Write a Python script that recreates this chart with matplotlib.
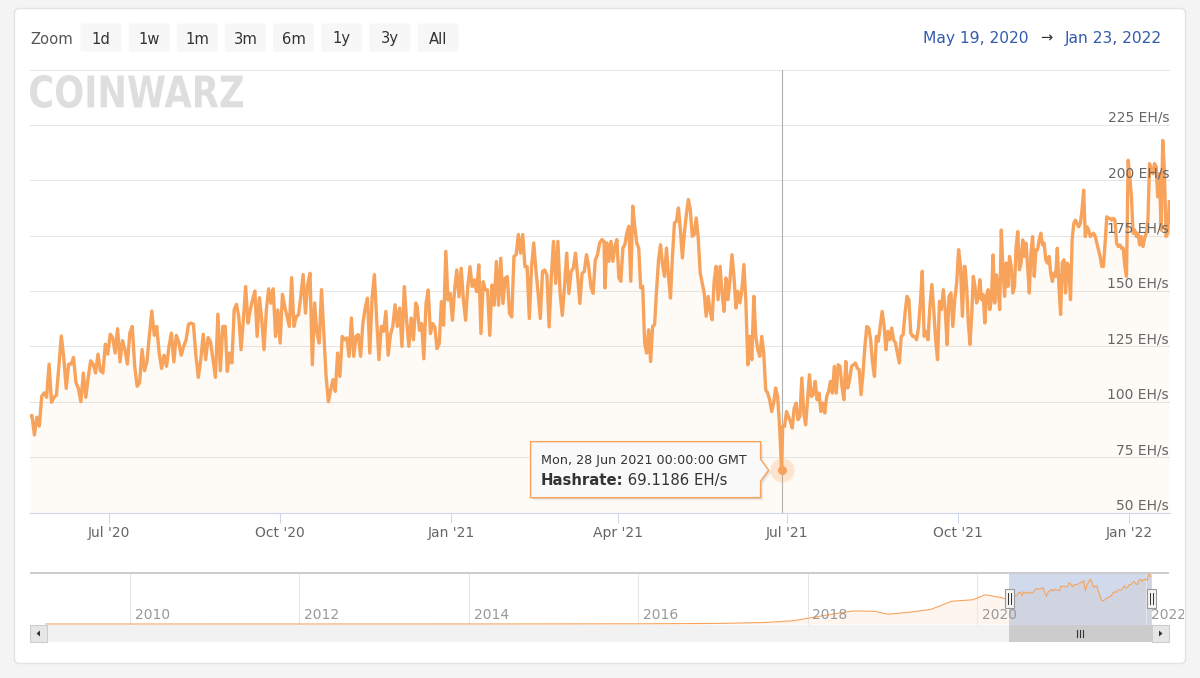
import numpy as np
import pandas as pd
import matplotlib
matplotlib.use("Agg")
import matplotlib.pyplot as plt
import matplotlib.dates as mdates
from matplotlib.patches import FancyBboxPatch, Rectangle, Polygon, PathPatch
from matplotlib.textpath import TextPath
from matplotlib.font_manager import FontProperties
from matplotlib.transforms import Affine2D, blended_transform_factory

plt.rcParams['font.family'] = ['DejaVu Sans']

# ---------------- data ----------------
range_start = pd.Timestamp("2020-05-19")
range_end = pd.Timestamp("2022-01-23")
series_name = "Hashrate"
unit = "EH/s"

# day offsets (from range_start) covered by each block of readings
segment_day_spans = [(0.0, 105.4), (106.5, 208.0), (208.8, 309.4),
                     (309.9, 405.0), (405.6, 503.4), (503.8, 613.8)]

hashrate_may_aug_2020 = [
    93.5, 93.8, 85, 93, 89, 102.5, 104, 102, 117, 99.8, 102, 103, 116, 129.7, 120, 106, 117, 117,
    120, 108.6, 106, 100, 113, 102, 111, 118.5, 117, 113, 121.5, 114, 113, 126, 121.5, 130.5, 129,
    122, 133, 118, 127.6, 123.6, 117, 131, 134, 116, 107, 108.6, 123.6, 114, 118, 130, 141, 130, 134,
    122, 115, 121, 116, 125, 131, 118, 130, 127, 121, 125, 128, 135, 135.5, 135, 121, 111, 119, 130.5,
    119, 129, 127, 119, 111, 139.5, 114, 134, 134]
hashrate_sep_dec_2020 = [
    113.7, 122, 117.5, 141.5, 144, 138.5, 123.5, 137, 152, 135.5, 141.5, 146, 150, 129.5, 147, 137,
    123.5, 141.5, 151, 144.5, 151, 129.5, 141.5, 126.5, 148.5, 143, 138.5, 134, 156, 134, 138.5, 139.3,
    147.6, 157.4, 140, 153, 158, 116.7, 144.6, 131, 126.5, 150.6, 131, 111.4, 100, 105.4, 110, 104.7,
    122, 111.4, 129.5, 128, 128.8, 120.5, 137.8, 120.5, 129.5, 130.3, 120.5, 135.5, 142.3, 146.8, 122,
    146.8, 157.4, 137, 119, 134, 131.8, 140.8, 121, 130.3, 134, 143.8, 134, 142.3, 125, 152, 137, 125,
    137.8, 128, 144.6]
hashrate_dec_2020_mar_2021 = [
    142.9, 132.3, 135.3, 119.4, 144.4, 150.5, 130.8, 135.3, 133.8, 124, 126.2, 145.2, 134.5, 167.9,
    145.9, 148.9, 136.8, 150.5, 159.5, 147.4, 160.3, 145.9, 136.8, 152, 161, 152, 155, 149.7, 161.8,
    130.8, 154.2, 150.5, 150.5, 130, 152.7, 143.6, 163.3, 143.6, 164.8, 144.4, 155.8, 156.5, 139.8,
    138.3, 165.6, 166.4, 175.5, 167.1, 175.5, 161, 161, 137.6, 161, 171.7, 159.5, 149, 137.6, 158.8,
    159.5, 157.3, 133.8, 156.5, 172.4, 153.5, 172.4, 148.9, 139, 152, 167.1, 148.9, 158.8, 160.3,
    167.1, 156.5, 144.4, 158, 158.8, 166.4, 161, 152, 148.9, 164, 166.4, 171.7, 173.2, 172.4]
hashrate_mar_jun_2021 = [
    151.4, 171.7, 163.4, 172.4, 163.4, 170.2, 173.2, 155.9, 154.4, 169.4, 170.9, 176.2, 179.2, 154.4,
    188.3, 179.2, 171.7, 169.4, 151.4, 152.1, 126.5, 122, 132.5, 118.2, 134, 134.8, 150.6, 164.2,
    170.9, 161.9, 156.6, 169.4, 156.6, 146.8, 165.7, 180.7, 181.5, 187.5, 177.7, 164.9, 176.2, 184.5,
    191.3, 186.7, 174.7, 175.5, 183, 173.9, 158.1, 153.6, 149.1, 138.6, 147.6, 140.8, 137, 154.4,
    161.1, 146.1, 161.1, 149.1, 140.8, 155.9, 146.1, 155.1, 166.4, 156.6, 142.3, 149.9, 144.6, 150.6,
    161.9, 145.3, 116.7, 129.5, 119, 147.6, 129.5, 123.5, 120.5, 129.5, 122, 105.4, 103.9, 100.9,
    95.6, 99.4, 106.2, 102.4, 88.9, 69.1186]
hashrate_jun_oct_2021 = [
    88.9, 88.9, 95.6, 93.4, 91.1, 88.1, 97.1, 99.4, 91.9, 93.4, 110.7, 94.9, 89.6, 100.9, 112.2,
    102.4, 103.2, 109.2, 100.9, 103.9, 95.6, 99.4, 94.9, 102.4, 104.7, 109.2, 103.9, 116, 103.9,
    116.7, 116, 106.9, 100.9, 118.2, 106.2, 109.9, 116, 116.7, 117.5, 115.2, 114.5, 103.2, 113, 125,
    134, 133.3, 128, 117.5, 111.4, 129.5, 127.3, 134, 140.8, 134.8, 123.5, 131.8, 128, 133.3, 128,
    126.5, 122, 117.5, 129.5, 130.3, 140.1, 147.6, 146.1, 131, 129.5, 129.5, 128, 133.3, 144.6, 158.9,
    129.5, 131.8, 128, 143.1, 152.9, 141.6, 128, 119, 145.3, 141.6, 150.6, 141.6, 125.8, 147.6, 149.1,
    134, 146.1, 153.6, 168.7, 161.1, 138.6, 161.1]
hashrate_oct_2021_jan_2022 = [
    161.1, 151.3, 135.6, 125.9, 138.6, 156.6, 152.1, 144.6, 146.9, 155.1, 146.1, 148.4, 135.6, 147.6,
    150.6, 141.6, 146.1, 166.3, 144.6, 157.3, 152.1, 141.6, 177.5, 159.6, 147.6, 162.6, 152.1, 165.6,
    161.1, 149.1, 152.1, 170.1, 176.8, 159.6, 162.6, 173.1, 165.6, 171.6, 161.1, 149.1, 167.1, 174.6,
    156.6, 168.6, 168.6, 173.1, 176.1, 170.8, 171.6, 164.1, 162.6, 165.6, 158.1, 154.3, 158.1, 156.6,
    169.3, 152.1, 139.4, 162.6, 164.1, 149.1, 162.6, 161.1, 146.1, 173.1, 180.5, 182, 180.5, 179,
    180.5, 186.5, 195.5, 174.6, 179, 177.5, 174.6, 175.3, 176.1, 174.6, 171.6, 168.6, 165.6, 161.1,
    161.1, 171.6, 183.5, 182.8, 182.8, 182, 182.8, 182, 171.6, 170.1, 170.8, 169.3, 169.3, 161.1,
    156.6, 209, 201.5, 192.5, 176.1, 177.5, 174.6, 176.1, 170.8, 174.6, 170.1, 173.8, 176.1, 182,
    207.5, 204.5, 203, 207.5, 206, 192.5, 203, 177.5, 218, 204.5, 174.6, 176.1, 190.3]

segments = [hashrate_may_aug_2020, hashrate_sep_dec_2020, hashrate_dec_2020_mar_2021,
            hashrate_mar_jun_2021, hashrate_jun_oct_2021, hashrate_oct_2021_jan_2022]

# long-term history shown in the navigator (before the main range)
history_dates = ["2009-01-03", "2010-01-01", "2011-01-01", "2012-01-01", "2013-01-01", "2014-01-01",
                 "2014-07-01", "2015-01-01", "2016-01-01", "2016-07-01", "2017-01-01", "2017-07-01",
                 "2017-11-01", "2018-01-01", "2018-04-15", "2018-07-15", "2018-10-15", "2018-12-15",
                 "2019-03-15", "2019-06-15", "2019-09-15", "2019-12-15", "2020-02-05", "2020-04-20"]
history_values = [0, 0, 0, 0.01, 0.02, 0.1, 0.2, 0.35, 0.8, 1.5, 2.5, 6, 13, 23, 39, 52, 51, 39,
                  47, 58, 91, 97, 117, 105]

y_ticks = [50, 75, 100, 125, 150, 175, 200, 225]
zoom_buttons = ["1d", "1w", "1m", "3m", "6m", "1y", "3y", "All"]
nav_years = [2010, 2012, 2014, 2016, 2018, 2020, 2022]

tooltip_date = pd.Timestamp("2021-06-28")
tooltip_header = tooltip_date.strftime("%a, %d %b %Y %H:%M:%S GMT")
tooltip_value = hashrate_mar_jun_2021[-1]

# build the series
dates_list, vals_list = [], []
for (d0, d1), seg in zip(segment_day_spans, segments):
    days = np.linspace(d0, d1, len(seg))
    dates_list.append(range_start + pd.to_timedelta(days, unit="D"))
    vals_list.append(np.asarray(seg, float))
dates = pd.DatetimeIndex(np.concatenate([d.values for d in dates_list]))
vals = np.concatenate(vals_list)

# ---------------- figure ----------------
W, H = 1200, 678
fig = plt.figure(figsize=(12, 6.78), dpi=100)
fig.patch.set_facecolor('#f4f4f4')

ORANGE = '#f7a35c'
TXT = '#333333'
LBL = '#666666'


def overlay(z):
    a = fig.add_axes([0, 0, 1, 1], zorder=z)
    a.set_xlim(0, W)
    a.set_ylim(H, 0)
    a.axis('off')
    a.patch.set_alpha(0)
    return a


bg = overlay(0)
bg.add_patch(FancyBboxPatch((14.5, 8.5), 1171, 655, boxstyle='round,pad=0,rounding_size=5',
                            fc='white', ec='#e2e2e2', lw=1))

# watermark logo
fp = FontProperties(family='DejaVu Sans', weight='bold')
tp = TextPath((0, 0), "COINWARZ", size=10, prop=fp)
ext = tp.get_extents()
tr = Affine2D().translate(-ext.x0, -ext.y0).scale(213 / ext.width, -33 / ext.height).translate(30, 108)
bg.add_patch(PathPatch(tr.transform_path(tp), fc='#dedede', ec='none'))

# ---------------- main axes ----------------
L, R, T, B = 29.5, 1169.7, 69.5, 512.5
ax = fig.add_axes([L / W, 1 - B / H, (R - L) / W, (B - T) / H], zorder=2)
ax.patch.set_alpha(0)
ax.set_xlim(range_start, range_end)
ax.set_ylim(50, 250)
for s in ['top', 'left', 'right']:
    ax.spines[s].set_visible(False)
ax.spines['bottom'].set_color('#ccd6eb')
ax.spines['bottom'].set_linewidth(0.8)
ax.set_yticks(y_ticks + [250])
ax.yaxis.grid(True, color='#e6e6e6', lw=0.75)
ax.set_axisbelow(True)
ax.tick_params(axis='y', length=0, labelleft=False)

xt = pd.date_range("2020-07-01", range_end, freq="QS-JAN")
ax.set_xticks(xt)
ax.set_xticklabels([f"{d.strftime('%b')} '{d.strftime('%y')}" for d in xt])
ax.tick_params(axis='x', length=7.2, width=0.75, color='#ccd6eb', labelcolor=LBL,
               labelsize=10, pad=2.8)

ax.fill_between(dates, vals, 0, color=ORANGE, alpha=0.05, lw=0)
ax.plot(dates, vals, color=ORANGE, lw=2.4, solid_joinstyle='round', zorder=3)

for v in y_ticks:
    ax.annotate(f"{v} {unit}", xy=(1, v), xycoords=('axes fraction', 'data'),
                xytext=(-0.5, 2.2), textcoords='offset points', ha='right', va='baseline',
                color=LBL, fontsize=10, zorder=6, annotation_clip=False)

ax.axvline(tooltip_date, color='#b0b0b0', lw=0.8, zorder=2)
ax.scatter([tooltip_date], [tooltip_value], s=300, color=ORANGE, alpha=0.25, lw=0, zorder=4,
           clip_on=False)
ax.scatter([tooltip_date], [tooltip_value], s=42, color=ORANGE, lw=0, zorder=5, clip_on=False)

# ---------------- navigator ----------------
NL, NR, NT, NB = 30, 1169, 573, 625
nav = fig.add_axes([NL / W, 1 - NB / H, (NR - NL) / W, (NB - NT) / H], zorder=2)
nav.patch.set_alpha(0)
px_per_year = 84.7
ref_year = pd.Timestamp("2010-01-01")   # sits at x = 130 px
nav.set_xlim(ref_year - pd.Timedelta(days=(130 - NL) / px_per_year * 365.25),
             ref_year + pd.Timedelta(days=(NR - 130) / px_per_year * 365.25))
nav.set_ylim(-4, 204)
nav.axis('off')

weekly = pd.Series(vals, index=dates).resample('7D').mean()
nav_dates = pd.DatetimeIndex(list(pd.to_datetime(history_dates)) + list(weekly.index))
nav_vals = np.concatenate([history_values, weekly.values])
nblend = blended_transform_factory(nav.transData, nav.transAxes)
for yr in nav_years:
    nav.plot([pd.Timestamp(f"{yr}-01-01")] * 2, [0, 1], transform=nblend, color='#e6e6e6', lw=0.75)
nav.fill_between(nav_dates, nav_vals, 0, color=ORANGE, alpha=0.1, lw=0)
nav.plot(nav_dates, nav_vals, color=ORANGE, lw=0.8)

x0n, x1n = mdates.date2num(range_start), mdates.date2num(range_end)
nav.add_patch(Rectangle((x0n, 0), x1n - x0n, 1, transform=nblend, fc='#6685c2', alpha=0.3, lw=0))

clip_rect = Rectangle((0, 0), 1184, H, transform=bg.transData)
for yr in nav_years:
    t = nav.annotate(str(yr), xy=(pd.Timestamp(f"{yr}-01-01"), 0.11),
                     xycoords=('data', 'axes fraction'), xytext=(3.4, 0),
                     textcoords='offset points', ha='left', va='baseline', color='#999999',
                     fontsize=10, annotation_clip=False)
    t.set_clip_path(clip_rect)

# ---------------- foreground UI ----------------
fg = overlay(5)

fg.text(30, 44, "Zoom", color='#555555', fontsize=10.6, ha='left', va='baseline')
for i, lab in enumerate(zoom_buttons):
    bx = 80.5 + i * 48.15
    fg.add_patch(FancyBboxPatch((bx, 23.5), 41, 28, boxstyle='round,pad=0,rounding_size=2',
                                fc='#f7f7f7', ec='none'))
    fg.text(bx + 20.5, 43.5, lab, color=TXT, fontsize=10.6, ha='center', va='baseline')

fg.text(922.7, 42.5, range_start.strftime("%b %d, %Y"), color='#335cad', fontsize=11.2,
        ha='left', va='baseline')
fg.text(1046, 42, "\u2192", color=TXT, fontsize=10.5, ha='center', va='baseline')
fg.text(1161.7, 42.5, range_end.strftime("%b %d, %Y"), color='#335cad', fontsize=11.2,
        ha='right', va='baseline')

# navigator outline
fg.plot([NL, NR], [NT, NT], color='#cccccc', lw=1.4, solid_capstyle='butt')

p0 = nav.transData.transform((x0n, 0))[0]
p1 = nav.transData.transform((x1n, 0))[0]

# scrollbar
SB0, SB1 = 625, 642
fg.add_patch(Rectangle((NL, SB0), NR - NL, SB1 - SB0, fc='#f2f2f2', ec='none'))
fg.add_patch(Rectangle((p0, SB0), p1 - p0, SB1 - SB0, fc='#cccccc', ec='none'))
for bx in (NL, NR - 17):
    fg.add_patch(Rectangle((bx, SB0), 17, SB1 - SB0, fc='#e6e6e6', ec='#cccccc', lw=0.75))
cy = (SB0 + SB1) / 2
fg.add_patch(Polygon([(NL + 6.5, cy), (NL + 10, cy - 3), (NL + 10, cy + 3)], fc=TXT, ec='none'))
fg.add_patch(Polygon([(NR - 6.5, cy), (NR - 10, cy - 3), (NR - 10, cy + 3)], fc=TXT, ec='none'))
gx = (p0 + p1) / 2
for dx in (-3, 0, 3):
    fg.plot([gx + dx, gx + dx], [cy - 3.5, cy + 3.5], color=TXT, lw=0.8)

# navigator handles
for px in (p0, p1):
    fg.add_patch(Rectangle((px - 4.5, 588.5), 9, 19, fc='#f2f2f2', ec='#999999', lw=0.8))
    for dx in (-1.5, 1.5):
        fg.plot([px + dx, px + dx], [592.5, 603.5], color='#333333', lw=0.7)

# tooltip
ptx, pty_d = ax.transData.transform((mdates.date2num(tooltip_date), tooltip_value))
pty = H - pty_d
bx1 = ptx - 21
bx0 = bx1 - 230
by0, by1 = pty - 28.5, pty + 27.5
tipx = ptx - 13
poly = [(bx0, by0), (bx1, by0), (bx1, pty - 11), (tipx, pty), (bx1, pty + 11), (bx1, by1), (bx0, by1)]
for k, a in ((3, 0.03), (2, 0.05), (1, 0.08)):
    fg.add_patch(Polygon([(x + k, y + k) for x, y in poly], closed=True, fc='black', alpha=a,
                         ec='none'))
fg.add_patch(Polygon(poly, closed=True, fc='#f9f9f9', ec=ORANGE, lw=1, joinstyle='round'))
fg.text(bx0 + 10, pty - 6, tooltip_header, color=TXT, fontsize=9.2, ha='left', va='baseline')
tb = fg.text(bx0 + 10, pty + 15, f"{series_name}:", color=TXT, fontsize=10.7, fontweight='bold',
             ha='left', va='baseline')
renderer = fig.canvas.get_renderer()
ext_b = tb.get_window_extent(renderer)
fg.text(ext_b.x1, pty + 15, f" {tooltip_value:.4f} {unit}", color=TXT, fontsize=10.7,
        ha='left', va='baseline')

fig.savefig("out.png", dpi=100, facecolor=fig.get_facecolor())
